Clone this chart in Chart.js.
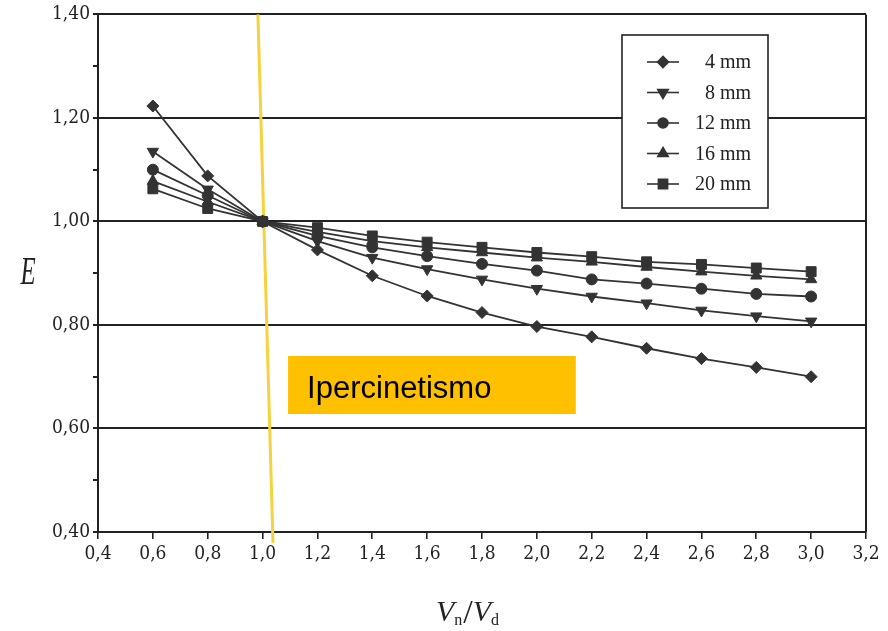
<!DOCTYPE html>
<html>
<head>
<meta charset="utf-8">
<script src="https://cdn.jsdelivr.net/npm/chart.js@4"></script>
<style>
  html, body { margin: 0; padding: 0; background: #fff; }
  #wrap { width: 888px; height: 631px; position: relative; }
</style>
</head>
<body>
<div id="wrap"><canvas id="grafico"></canvas></div>
<script>
// valori
const rapporti = [0.6, 0.8, 1.0, 1.2, 1.4, 1.6, 1.8, 2.0, 2.2, 2.4, 2.6, 2.8, 3.0];
const etichette = ['4 mm', '8 mm', '12 mm', '16 mm', '20 mm'];
const e4  = [1.223, 1.088, 1.00, 0.945, 0.895, 0.856, 0.824, 0.797, 0.777, 0.755, 0.735, 0.718, 0.700];
const e8  = [1.135, 1.062, 1.00, 0.962, 0.930, 0.908, 0.888, 0.870, 0.855, 0.842, 0.828, 0.817, 0.807];
const e12 = [1.100, 1.050, 1.00, 0.972, 0.950, 0.933, 0.918, 0.905, 0.888, 0.880, 0.870, 0.860, 0.855];
const e16 = [1.078, 1.038, 1.00, 0.980, 0.962, 0.950, 0.940, 0.930, 0.922, 0.912, 0.903, 0.895, 0.888];
const e20 = [1.063, 1.025, 1.00, 0.988, 0.972, 0.960, 0.950, 0.940, 0.932, 0.922, 0.917, 0.910, 0.903];

// riquadro "Ipercinetismo" e linea gialla (in coordinate dei dati)
const testoRiquadro = 'Ipercinetismo';
const riquadro = { x0: 1.093, x1: 2.142, y0: 0.740, y1: 0.628 };
const lineaGialla = { xTop: 0.983, yTop: 1.40, xBot: 1.038, yBot: 0.379 };

const serie = [e4, e8, e12, e16, e20];
const simboli = [
    { style: 'rectRot', r: 6, rot: 0 },
    { style: 'triangle', r: 6.5, rot: 180 },
    { style: 'circle', r: 5.5, rot: 0 },
    { style: 'triangle', r: 6.5, rot: 0 },
    { style: 'rect', r: 7, rot: 0 }
];

const datasets = serie.map((valori, i) => ({
    label: etichette[i],
    data: valori.map((v, j) => ({ x: rapporti[j], y: v })),
    borderColor: '#333',
    backgroundColor: '#333',
    borderWidth: 1.8,
    pointStyle: simboli[i].style,
    pointRadius: simboli[i].r,
    pointRotation: simboli[i].rot,
    pointBorderWidth: 1,
    tension: 0
}));

const isMaggiore = v => Math.round(v * 10) % 2 === 0;

// disegni aggiuntivi: linea gialla, riquadro, legenda, titoli assi, bordo
const extra = {
    id: 'extra',
    beforeDatasetsDraw(chart) {
        const { ctx, scales: { x, y } } = chart;
        ctx.save();
        ctx.strokeStyle = '#F7D23E';
        ctx.lineWidth = 3;
        ctx.beginPath();
        ctx.moveTo(x.getPixelForValue(lineaGialla.xTop), y.getPixelForValue(lineaGialla.yTop));
        ctx.lineTo(x.getPixelForValue(lineaGialla.xBot), y.getPixelForValue(lineaGialla.yBot));
        ctx.stroke();
        ctx.restore();
    },
    afterDatasetsDraw(chart) {
        const { ctx, chartArea: a, scales: { x, y } } = chart;
        ctx.save();

        // bordo destro
        ctx.strokeStyle = '#222';
        ctx.lineWidth = 2;
        ctx.beginPath();
        ctx.moveTo(a.right, a.top);
        ctx.lineTo(a.right, a.bottom);
        ctx.stroke();

        // riquadro arancione
        const bx0 = x.getPixelForValue(riquadro.x0), bx1 = x.getPixelForValue(riquadro.x1);
        const by0 = y.getPixelForValue(riquadro.y0), by1 = y.getPixelForValue(riquadro.y1);
        ctx.fillStyle = '#FFC000';
        ctx.fillRect(bx0, by0, bx1 - bx0, by1 - by0);
        ctx.fillStyle = '#000';
        ctx.font = '31px "Liberation Sans", Arial, sans-serif';
        ctx.textAlign = 'left';
        ctx.textBaseline = 'alphabetic';
        ctx.fillText(testoRiquadro, bx0 + 19, by0 + 42);

        // legenda
        const L = { left: 622, top: 35, w: 146, h: 173 };
        ctx.fillStyle = '#fff';
        ctx.fillRect(L.left, L.top, L.w, L.h);
        ctx.strokeStyle = '#222';
        ctx.lineWidth = 1.6;
        ctx.strokeRect(L.left, L.top, L.w, L.h);
        ctx.font = '20px "Liberation Serif", serif';
        ctx.textAlign = 'right';
        ctx.textBaseline = 'middle';
        chart.data.datasets.forEach((ds, i) => {
            const yy = 62 + i * 30.5;
            ctx.strokeStyle = ds.borderColor;
            ctx.lineWidth = 1.6;
            ctx.beginPath();
            ctx.moveTo(647, yy);
            ctx.lineTo(679, yy);
            ctx.stroke();
            ctx.fillStyle = ds.backgroundColor;
            Chart.helpers.drawPoint(ctx, {
                pointStyle: ds.pointStyle, radius: ds.pointRadius - 0.5,
                rotation: ds.pointRotation, borderWidth: 1
            }, 663, yy);
            ctx.fillStyle = '#222';
            ctx.fillText(ds.label, 751, yy + 1);
        });

        // titolo asse y: E
        ctx.fillStyle = '#222';
        ctx.save();
        ctx.translate(28, 284);
        ctx.scale(0.62, 1);
        ctx.font = 'italic 40px "Liberation Serif", serif';
        ctx.textAlign = 'center';
        ctx.textBaseline = 'alphabetic';
        ctx.fillText('E', 0, 0);
        ctx.restore();

        // titolo asse x: Vn/Vd
        ctx.textAlign = 'left';
        ctx.textBaseline = 'alphabetic';
        const parti = [
            { t: 'V', f: 'italic 30px "Liberation Serif", serif', dx: 0, dy: 0 },
            { t: 'n', f: '16px "Liberation Serif", serif', dx: 0, dy: 4 },
            { t: '/', f: '34px "Liberation Serif", serif', dx: 1, dy: 2 },
            { t: 'V', f: 'italic 30px "Liberation Serif", serif', dx: 0, dy: 0 },
            { t: 'd', f: '16px "Liberation Serif", serif', dx: 0, dy: 4 }
        ];
        let px = 436;
        parti.forEach(p => {
            ctx.font = p.f;
            ctx.fillText(p.t, px + p.dx, 621 + p.dy);
            px += ctx.measureText(p.t).width + p.dx;
        });

        ctx.restore();
    }
};

new Chart(document.getElementById('grafico'), {
    type: 'line',
    data: { datasets },
    plugins: [extra],
    options: {
        responsive: true,
        maintainAspectRatio: false,
        animation: false,
        layout: { padding: { top: 14, right: 22, left: 0, bottom: 0 } },
        plugins: { legend: { display: false }, tooltip: { enabled: false } },
        scales: {
            x: {
                type: 'linear',
                min: 0.4,
                max: 3.2,
                afterFit: s => { s.height = 99; },
                ticks: {
                    stepSize: 0.2,
                    color: '#222',
                    padding: 4,
                    maxRotation: 0,
                    font: { family: '"DejaVu Serif Condensed", "Liberation Serif", serif', size: 19 },
                    callback: v => v.toFixed(1).replace('.', ',')
                },
                grid: { drawOnChartArea: false, drawTicks: true, tickLength: 7, tickColor: '#222', lineWidth: 1.6 },
                border: { color: '#222', width: 2 }
            },
            y: {
                min: 0.4,
                max: 1.4,
                afterFit: s => { s.width = 98; },
                ticks: {
                    stepSize: 0.1,
                    color: '#222',
                    padding: 3,
                    font: { family: '"DejaVu Serif Condensed", "Liberation Serif", serif', size: 19 },
                    callback: v => isMaggiore(v) ? v.toFixed(2).replace('.', ',') : ''
                },
                grid: {
                    color: c => isMaggiore(c.tick.value) ? '#222' : 'rgba(0,0,0,0)',
                    tickColor: '#222',
                    lineWidth: 2,
                    tickLength: 5
                },
                border: { color: '#222', width: 2 }
            }
        }
    }
});
</script>
</body>
</html>
